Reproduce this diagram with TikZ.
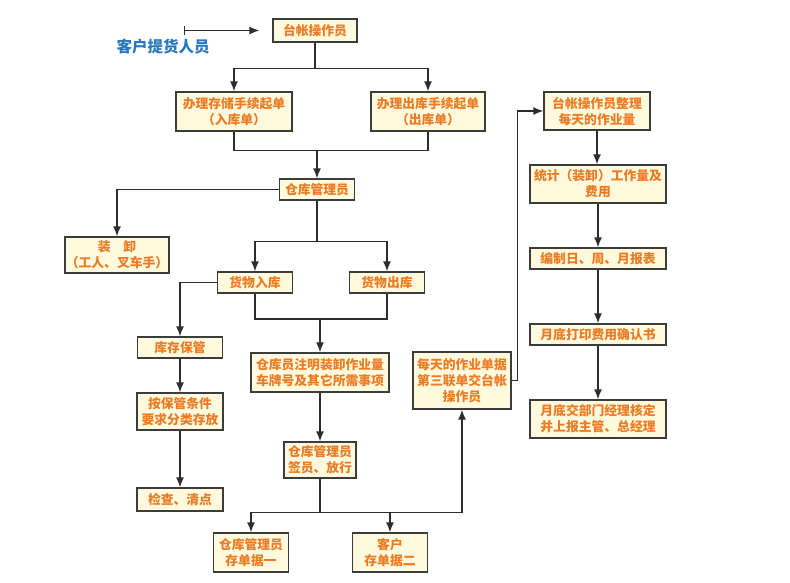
\documentclass[tikz,border=0pt]{standalone}
\usepackage{fontspec}
\setmainfont{Noto Sans CJK SC}
\usetikzlibrary{arrows.meta}
\definecolor{boxfill}{RGB}{255,249,222}
\definecolor{boxdraw}{RGB}{60,60,60}
\definecolor{txt}{RGB}{236,124,36}
\definecolor{lin}{RGB}{45,45,45}
\definecolor{bluet}{RGB}{40,120,190}
\begin{document}
\begin{tikzpicture}[x=1pt,y=-1pt,
  box/.style={draw=boxdraw,fill=boxfill,line width=1.3pt,text=txt,align=center,
    inner sep=0pt,font=\fontsize{12.8}{16}\selectfont\bfseries},
  ln/.style={draw=lin,line width=1.4pt},
  arr/.style={ln,-{Latex[length=10pt,width=8pt]}}]
\useasboundingbox (0,0) rectangle (790,582);
\node[box,minimum width=84pt,minimum height=23pt] (tai) at (315,30.5) {台帐操作员};
\node[text=bluet,font=\fontsize{15.5}{16}\selectfont\bfseries] (kehu) at (163,47) {客户提货人员};
\coordinate (st) at (184,30.5);
\node[box,minimum width=116pt,minimum height=39pt] (ru) at (234,111.5) {办理存储手续起单\\（入库单）};
\node[box,minimum width=114pt,minimum height=39pt] (chu) at (428,111.5) {办理出库手续起单\\（出库单）};
\node[box,minimum width=75pt,minimum height=21pt] (cg) at (317,189.5) {仓库管理员};
\node[box,minimum width=104pt,minimum height=36pt] (zx) at (117,255) {装\quad 卸\\（工人、叉车手）};
\node[box,minimum width=75pt,minimum height=21pt] (hr) at (255,282.5) {货物入库};
\node[box,minimum width=75pt,minimum height=21pt] (hc) at (387,282.5) {货物出库};
\node[box,minimum width=85pt,minimum height=21pt] (kc) at (180,347.5) {库存保管};
\node[box,minimum width=138pt,minimum height=39pt] (zm) at (320,372.5) {仓库员注明装卸作业量\\车牌号及其它所需事项};
\node[box,minimum width=86pt,minimum height=37pt] (ab) at (180,411.5) {按保管条件\\要求分类存放};
\node[box,minimum width=86pt,minimum height=23pt] (jc) at (180,499.5) {检查、清点};
\node[box,minimum width=72pt,minimum height=36pt] (qy) at (320,460) {仓库管理员\\签员、放行};
\node[box,minimum width=75pt,minimum height=39pt] (d1) at (251,552.5) {仓库管理员\\存单据一};
\node[box,minimum width=75pt,minimum height=39pt] (d2) at (390,552.5) {客户\\存单据二};
\node[box,minimum width=98pt,minimum height=57pt] (mt) at (462,380.5) {每天的作业单据\\第三联单交台帐\\操作员};
\node[box,minimum width=106pt,minimum height=38pt] (tz) at (597,111) {台帐操作员整理\\每天的作业量};
\node[box,minimum width=136pt,minimum height=38pt] (tj) at (598,184) {统计（装卸）工作量及\\费用};
\node[box,minimum width=136pt,minimum height=21pt] (bz) at (598,258.5) {编制日、周、月报表};
\node[box,minimum width=136pt,minimum height=21pt] (yd) at (598,334.5) {月底打印费用确认书};
\node[box,minimum width=136pt,minimum height=38pt] (jd) at (598,419) {月底交部门经理核定\\并上报主管、总经理};
% connectors
\draw[arr,|-{Latex[length=10pt,width=8pt]},shorten >=13pt] (st) -- (tai.west);
\draw[ln] (tai.south) -- ++(0,26) coordinate (t1);
\draw[arr] (t1) -| (ru.north);
\draw[arr] (t1) -| (chu.north);
\draw[ln] (ru.south) -- ++(0,19) coordinate (t2) -| (chu.south);
\draw[arr] (t2 -| cg.north) -- (cg.north);
\draw[arr] (cg.west) -| (zx.north);
\draw[ln] (cg.south) -- ++(0,41) coordinate (t3);
\draw[arr] (t3) -| (hr.north);
\draw[arr] (t3) -| (hc.north);
\draw[arr] (hr.west) -| (kc.north);
\draw[ln] (hr.south) -- ++(0,25.5) coordinate (t4) -| (hc.south);
\draw[arr] (t4 -| zm.north) -- (zm.north);
\draw[arr] (kc.south) -- (ab.north);
\draw[arr] (ab.south) -- (jc.north);
\draw[arr] (zm.south) -- (qy.north);
\draw[ln] (qy.south) -- ++(0,34) coordinate (t5);
\draw[arr] (t5) -| (d1.north);
\draw[arr] (t5) -| (d2.north);
\draw[arr] (t5) -| (mt.south);
\draw[arr] (mt.east) -- ++(6,0) |- (tz.west);
\draw[arr] (tz.south) -- (tz.south |- tj.north);
\draw[arr] (tj.south) -- (bz.north);
\draw[arr] (bz.south) -- (yd.north);
\draw[arr] (yd.south) -- (jd.north);
\end{tikzpicture}
\end{document}
